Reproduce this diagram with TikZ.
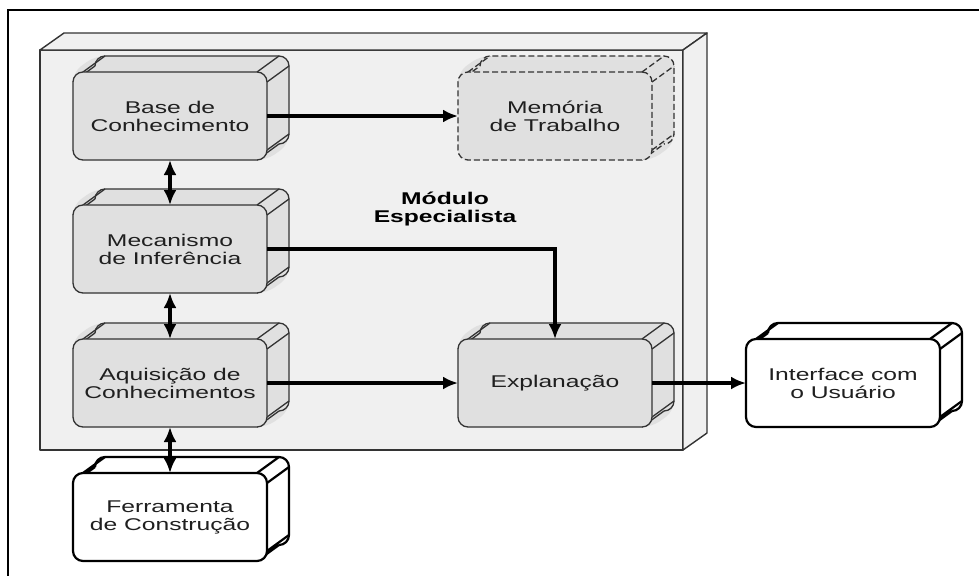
\documentclass[tikz,border=0pt]{standalone}
\usepackage{fontspec}
\setmainfont{Liberation Sans}[FakeStretch=1.45]
\usepackage{xcolor}
\usetikzlibrary{arrows.meta}
\definecolor{panel}{HTML}{F0F0F0}
\definecolor{slab}{HTML}{E0E0E0}
\definecolor{rim}{HTML}{333333}
\tikzstyle{panel face}=[fill=panel, draw=rim, line width=1.4pt, line join=round]
\tikzstyle{box}=[fill=slab, draw=rim, line width=1.3pt, shape=rectangle, rounded corners=10pt, outer sep=0pt, minimum width=194pt, minimum height=88pt, align=center, text=black!88, font=\fontsize{17}{18}\selectfont]
\tikzstyle{white box}=[box, fill=white, draw=black, line width=2.2pt]
\tikzstyle{dashed box}=[box, dashed, dash pattern=on 6pt off 3pt]
\tikzstyle{gray rim}=[draw=rim, line width=1.3pt]
\tikzstyle{black rim}=[draw=black, line width=2.2pt]
\tikzstyle{dashed rim}=[draw=rim, line width=1.3pt, dash pattern=on 6pt off 3pt]
\tikzstyle{arrow edge}=[-{Latex[length=15pt, width=13pt]}, line width=3.3pt]
\tikzstyle{double edge}=[{Latex[length=15pt, width=13pt]}-{Latex[length=15pt, width=13pt]}, line width=3.3pt]
\pgfdeclarelayer{panellayer}
\pgfdeclarelayer{sidelayer}
\pgfsetlayers{panellayer,sidelayer,main}
% sides of a slab: #1 node, #2 fill, #3 line style
\newcommand{\slabside}[3]{%
  \fill[#2, rounded corners=10pt] (#1.south west) -- (#1.north west)
    -- ([shift={(22pt,16pt)}]#1.north west) -- ([shift={(22pt,16pt)}]#1.north east)
    -- ([shift={(22pt,16pt)}]#1.south east) -- (#1.south east) -- cycle;
  \draw[#3, rounded corners=10pt] ([shift={(22pt,6pt)}]#1.north west)
    |- ([shift={(22pt,16pt)}]#1.north east) |- ([shift={(12pt,16pt)}]#1.south east);
  \draw[#3] ([xshift=10pt]#1.north west) -- ([shift={(32pt,16pt)}]#1.north west)
    ([yshift=-10pt]#1.north west) -- ([shift={(22pt,6pt)}]#1.north west)
    ([xshift=-10pt]#1.north east) -- ([shift={(12pt,16pt)}]#1.north east)
    ([yshift=-10pt]#1.north east) -- ([shift={(22pt,6pt)}]#1.north east)
    ([xshift=-10pt]#1.south east) -- ([shift={(12pt,16pt)}]#1.south east)
    ([yshift=10pt]#1.south east) -- ([shift={(22pt,26pt)}]#1.south east);
}

\begin{document}
\begin{tikzpicture}[x=1pt, y=-1pt]
	\useasboundingbox (0,0) rectangle (979,576);
	\draw [line width=2.2pt] (979,10) -- (8,10) -- (8,576);
	\begin{pgfonlayer}{panellayer}
		\draw [style=panel face] (40,50) rectangle (683,450);
		\draw [style=panel face] (40,50) -- (64,33) -- (707,33) -- (683,50) -- cycle;
		\draw [style=panel face] (683,50) -- (707,33) -- (707,433) -- (683,450) -- cycle;
	\end{pgfonlayer}
	\node [style=box] (0) at (170,116) {Base de\\Conhecimento};
	\node [style=dashed box] (1) at (555,116) {Memória\\de Trabalho};
	\node [style=box] (2) at (170,249) {Mecanismo\\de Inferência};
	\node [style=box] (3) at (170,383) {Aquisição de\\Conhecimentos};
	\node [style=box] (4) at (555,383) {Explanação};
	\node [style=white box] (5) at (843,383) {Interface com\\o Usuário};
	\node [style=white box] (6) at (170,517) {Ferramenta\\de Construção};
	\node [align=center, font=\bfseries\fontsize{17}{18}\selectfont] (7) at (445,209) {Módulo\\Especialista};
	\begin{pgfonlayer}{sidelayer}
		\foreach \n in {0,2,3,4} {\slabside{\n}{slab}{gray rim}}
		\slabside{1}{slab}{dashed rim}
		\slabside{5}{white}{black rim}
		\slabside{6}{white}{black rim}
	\end{pgfonlayer}
	\draw [style=arrow edge] (0.east) to (1.west);
	\draw [style=double edge] (0.south) to (2.north);
	\draw [style=double edge] (2.south) to (3.north);
	\draw [style=double edge] (3.south) to (6.north);
	\draw [style=arrow edge] (2.east) -| (4.north);
	\draw [style=arrow edge] (3.east) to (4.west);
	\draw [style=arrow edge] (4.east) to (5.west);
\end{tikzpicture}
\end{document}
